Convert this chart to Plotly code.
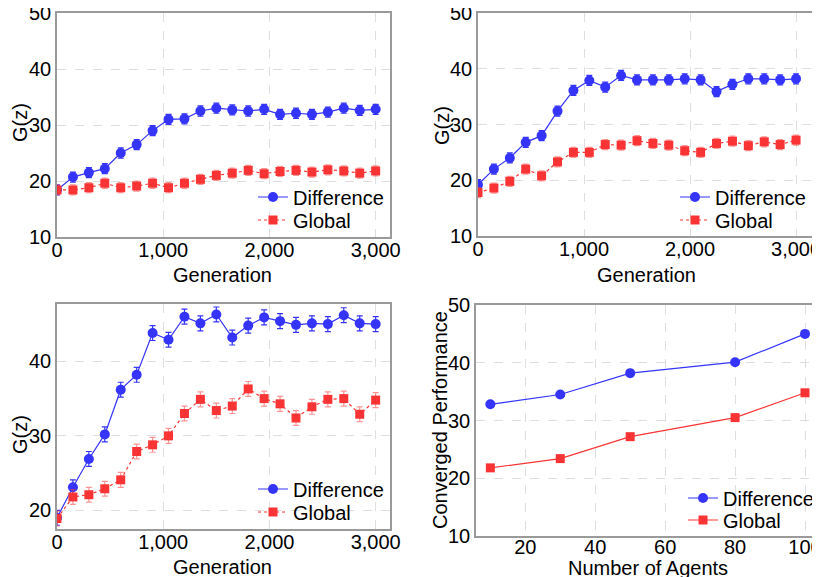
import plotly.graph_objects as go

W, H = 820, 577
OFF = 8  # default page (body) margin around the figure
FW, FH = W - OFF, H - OFF

# ---------------- data ----------------
generations = [0, 150, 300, 450, 600, 750, 900, 1050, 1200, 1350, 1500,
               1650, 1800, 1950, 2100, 2250, 2400, 2550, 2700, 2850, 3000]

# panel A (top-left)
a_diff = [18.4, 20.7, 21.5, 22.2, 25.0, 26.5, 29.0, 31.0, 31.1, 32.5, 33.0,
          32.7, 32.5, 32.8, 31.9, 32.1, 31.9, 32.3, 33.0, 32.6, 32.8]
a_glob = [18.4, 18.4, 18.8, 19.6, 18.8, 19.1, 19.6, 18.8, 19.6, 20.3, 21.0,
          21.4, 21.9, 21.3, 21.7, 21.9, 21.6, 22.0, 21.8, 21.4, 21.8]

# panel B (top-right)
b_diff = [19.2, 22.0, 24.0, 26.8, 28.0, 32.4, 36.1, 37.9, 36.7, 38.8, 38.0,
          38.0, 38.0, 38.2, 38.0, 35.9, 37.2, 38.2, 38.2, 38.0, 38.2]
b_glob = [17.8, 18.6, 19.8, 22.0, 20.8, 23.3, 25.0, 25.0, 26.4, 26.3, 27.1,
          26.6, 26.3, 25.3, 25.0, 26.6, 27.0, 26.2, 26.9, 26.4, 27.2]

# panel C (bottom-left)
c_diff = [19.0, 23.1, 26.9, 30.2, 36.2, 38.2, 43.8, 42.9, 46.0, 45.1, 46.3,
          43.2, 44.8, 45.9, 45.4, 44.9, 45.1, 45.0, 46.2, 45.1, 45.0]
c_glob = [18.9, 21.8, 22.1, 22.9, 24.1, 27.9, 28.8, 30.0, 33.0, 34.9, 33.4,
          34.0, 36.3, 35.0, 34.3, 32.4, 33.9, 34.9, 35.0, 32.9, 34.8]

err_top = 0.9
err_bottom = 1.0

# panel D (bottom-right)
agents = [10, 30, 50, 80, 100]
d_diff = [32.8, 34.5, 38.2, 40.1, 45.0]
d_glob = [21.8, 23.4, 27.2, 30.5, 34.8]

series_names = ["Difference", "Global"]

BLUE = "#3434FA"
RED = "#FA3434"
RED_ERR = "rgba(250,60,60,0.55)"
FONT = "Liberation Sans, Arial, sans-serif"


def px(x):
    return (x - OFF) / FW


def py(y):
    return 1 - (y - OFF) / FH


fig = go.Figure()

panels = [
    # (xaxis, yaxis, x data, diff, glob, err, dotted)
    ("x", "y", generations, a_diff, a_glob, err_top, True),
    ("x2", "y2", generations, b_diff, b_glob, err_top, True),
    ("x3", "y3", generations, c_diff, c_glob, err_bottom, True),
    ("x4", "y4", agents, d_diff, d_glob, None, False),
]

leg_ids = ["legend", "legend2", "legend3", "legend4",
           "legend5", "legend6", "legend7", "legend8"]

for i, (xa, ya, xs, dv, gv, err, dotted) in enumerate(panels):
    fig.add_trace(go.Scatter(
        x=xs, y=dv, xaxis=xa, yaxis=ya, name=series_names[0], legend=leg_ids[2 * i],
        mode="lines+markers",
        line=dict(color=BLUE, width=1.2),
        marker=dict(symbol="circle", size=10, color=BLUE),
        error_y=dict(type="constant", value=err if err else 0, color=BLUE, thickness=1.2,
                     width=3, visible=err is not None),
    ))
    fig.add_trace(go.Scatter(
        x=xs, y=gv, xaxis=xa, yaxis=ya, name=series_names[1], legend=leg_ids[2 * i + 1],
        mode="lines+markers",
        line=dict(color=RED, width=1.2, dash="dot" if dotted else "solid"),
        marker=dict(symbol="square", size=9, color=RED),
        error_y=dict(type="constant", value=err if err else 0, color=RED_ERR, thickness=1.2,
                     width=3, visible=err is not None),
    ))

axis_common = dict(
    showline=True, linecolor="#9a9a9a", linewidth=1.5, mirror=True,
    showgrid=True, gridcolor="#dedede", griddash="dash", gridwidth=1,
    zeroline=False, ticks="", automargin=False, ticklabeloverflow="allow",
    tickfont=dict(size=20, color="black", family=FONT),
)

# domains from pixel boxes (page pixels)
dom = {
    "A": ((57, 390), (13, 237)),
    "B": ((478, 813), (13, 236)),
    "C": ((57, 390), (304, 529)),
    "D": ((476, 819), (305, 536)),
}


def xd(k):
    return [px(dom[k][0][0]), min(1.0, px(dom[k][0][1]))]


def yd(k):
    return [py(dom[k][1][1]), py(dom[k][1][0])]


gen_ticks = [0, 1000, 2000, 3000]
gen_labels = ["0", "1,000", "2,000", "3,000"]

fig.update_layout(
    xaxis=dict(domain=xd("A"), range=[0, 3135], tickvals=gen_ticks, ticktext=gen_labels,
               anchor="y", ticklabelstandoff=-6, **axis_common),
    yaxis=dict(domain=yd("A"), range=[10, 50], dtick=10, anchor="x", **axis_common),
    xaxis2=dict(domain=xd("B"), range=[0, 3160], tickvals=gen_ticks, ticktext=gen_labels,
                anchor="y2", ticklabelstandoff=-6, **axis_common),
    yaxis2=dict(domain=yd("B"), range=[10, 50], dtick=10, anchor="x2", **axis_common),
    xaxis3=dict(domain=xd("C"), range=[0, 3135], tickvals=gen_ticks, ticktext=gen_labels,
                anchor="y3", ticklabelstandoff=-6, **axis_common),
    yaxis3=dict(domain=yd("C"), range=[17.5, 47.7], tickvals=[20, 30, 40], anchor="x3",
                **axis_common),
    xaxis4=dict(domain=xd("D"), range=[5.9, 104], tickvals=[20, 40, 60, 80, 100],
                anchor="y4", ticklabelstandoff=-8, **axis_common),
    yaxis4=dict(domain=yd("D"), range=[10, 50], dtick=10, anchor="x4", **axis_common),
)

leg_common = dict(bgcolor="rgba(0,0,0,0)", borderwidth=0, itemwidth=30,
                  font=dict(size=20, color="black", family=FONT),
                  xanchor="left", yanchor="middle")
# legend text left edge / centre line (page pixels) for each entry
leg_pos = [(295, 197), (295, 220), (717, 197), (717, 220),
           (295, 489), (295, 512), (725, 498), (725, 520)]
fig.update_layout(**{
    lid: dict(x=px(lx - 42), y=py(ly), **leg_common)
    for lid, (lx, ly) in zip(leg_ids, leg_pos)
})

annots = [
    ("G(z)", 20, 123, -90),
    ("Generation", 223, 275, 0),
    ("G(z)", 442, 125, -90),
    ("Generation", 646, 275, 0),
    ("G(z)", 20, 435, -90),
    ("Generation", 223, 567, 0),
    ("Converged Performance", 440, 420, -90),
    ("Number of Agents", 648, 568, 0),
]
for text, ax_, ay_, rot in annots:
    fig.add_annotation(text=text, x=px(ax_), y=py(ay_), xref="paper", yref="paper",
                       showarrow=False, textangle=rot, xanchor="center", yanchor="middle",
                       font=dict(size=20, color="black", family=FONT))

fig.update_layout(
    width=FW, height=FH, autosize=False,
    margin=dict(l=0, r=0, t=0, b=0),
    paper_bgcolor="white", plot_bgcolor="white",
    showlegend=True,
    font=dict(family=FONT, color="black"),
)

fig.write_html("out.html")
